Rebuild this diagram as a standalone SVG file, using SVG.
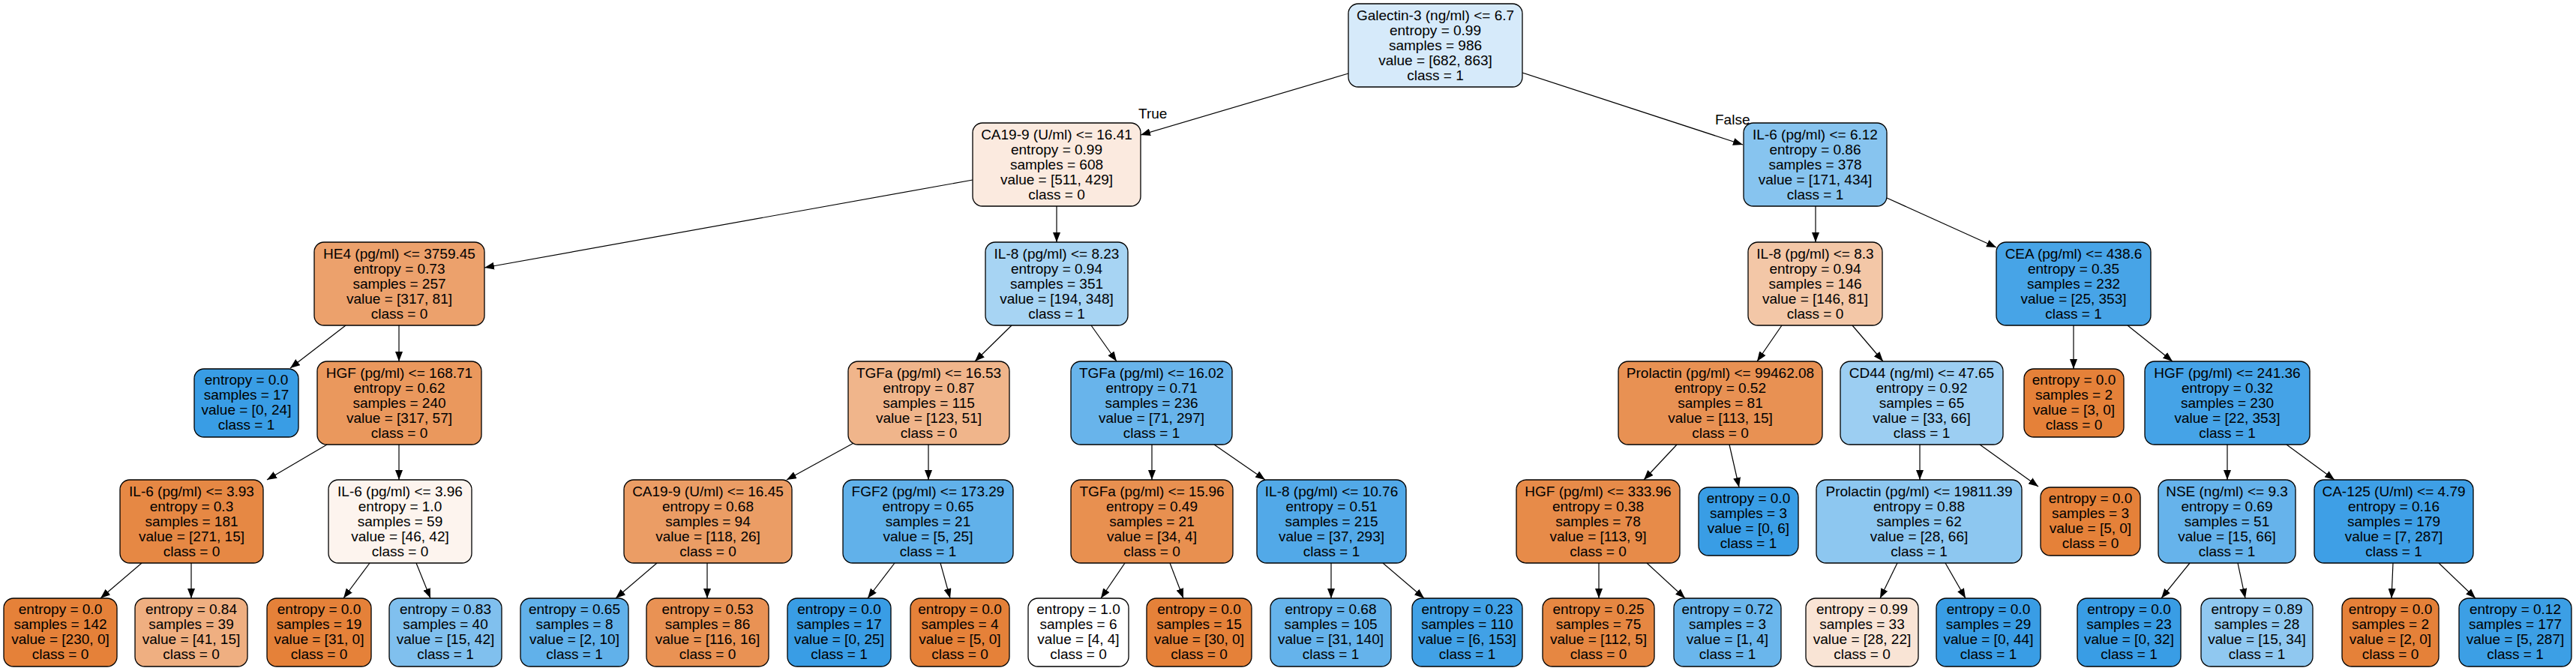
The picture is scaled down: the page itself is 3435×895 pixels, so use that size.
<svg xmlns="http://www.w3.org/2000/svg" width="3435" height="895" viewBox="0 0 3435 895">
<style>
.n rect{stroke:#000;stroke-width:1.3}
.n text,.lbl{font-family:"Liberation Sans",Arial,sans-serif;font-size:19px;fill:#000;text-anchor:middle}
.lbl{text-anchor:start}
.e line{stroke:#000;stroke-width:1.2;marker-end:url(#ah)}
</style>
<defs>
<marker id="ah" markerWidth="13" markerHeight="10" refX="13" refY="5" orient="auto" markerUnits="userSpaceOnUse"><path d="M0,0 L13,5 L0,10 z" fill="#000"/></marker>
</defs>
<rect width="3435" height="895" fill="#fff"/>
<g id="connectors" class="e">
<line x1="1798" y1="98" x2="1521" y2="180"/>
<line x1="2030" y1="97" x2="2324" y2="193"/>
<line x1="1297" y1="240" x2="646" y2="357"/>
<line x1="1409" y1="275" x2="1409" y2="323"/>
<line x1="2421" y1="275" x2="2421" y2="323"/>
<line x1="2516" y1="264" x2="2662" y2="330"/>
<line x1="461" y1="434" x2="387" y2="491"/>
<line x1="532" y1="434" x2="532" y2="482"/>
<line x1="1349" y1="434" x2="1300" y2="482"/>
<line x1="1455" y1="434" x2="1489" y2="482"/>
<line x1="2376" y1="434" x2="2343" y2="482"/>
<line x1="2470" y1="434" x2="2511" y2="482"/>
<line x1="2765" y1="434" x2="2765" y2="492"/>
<line x1="2837" y1="434" x2="2897" y2="482"/>
<line x1="436" y1="593" x2="356" y2="640"/>
<line x1="532" y1="593" x2="532" y2="640"/>
<line x1="1140" y1="590" x2="1049" y2="640"/>
<line x1="1238" y1="593" x2="1238" y2="640"/>
<line x1="1536" y1="593" x2="1536" y2="640"/>
<line x1="1619" y1="593" x2="1687" y2="640"/>
<line x1="2236" y1="593" x2="2192" y2="640"/>
<line x1="2306" y1="593" x2="2319" y2="650"/>
<line x1="2560" y1="593" x2="2560" y2="640"/>
<line x1="2640" y1="593" x2="2718" y2="649"/>
<line x1="2970" y1="593" x2="2970" y2="640"/>
<line x1="3049" y1="593" x2="3113" y2="640"/>
<line x1="189" y1="751" x2="134" y2="798"/>
<line x1="255" y1="751" x2="255" y2="798"/>
<line x1="493" y1="751" x2="458" y2="798"/>
<line x1="555" y1="751" x2="574" y2="798"/>
<line x1="876" y1="751" x2="821" y2="798"/>
<line x1="943" y1="751" x2="943" y2="798"/>
<line x1="1193" y1="751" x2="1157" y2="798"/>
<line x1="1254" y1="751" x2="1267" y2="798"/>
<line x1="1500" y1="751" x2="1468" y2="798"/>
<line x1="1560" y1="751" x2="1578" y2="798"/>
<line x1="1775" y1="751" x2="1775" y2="798"/>
<line x1="1844" y1="751" x2="1899" y2="798"/>
<line x1="2132" y1="751" x2="2132" y2="798"/>
<line x1="2196" y1="751" x2="2247" y2="798"/>
<line x1="2530" y1="751" x2="2507" y2="798"/>
<line x1="2594" y1="751" x2="2621" y2="798"/>
<line x1="2920" y1="751" x2="2882" y2="798"/>
<line x1="2984" y1="751" x2="2994" y2="798"/>
<line x1="3191" y1="751" x2="3189" y2="798"/>
<line x1="3252" y1="751" x2="3301" y2="798"/>
<text class="lbl" x="1518" y="158">True</text>
<text class="lbl" x="2287" y="166">False</text>
</g>
<g id="n0" class="n"><rect x="1798" y="5" width="232" height="111" rx="13" fill="#d6eafa"/><text x="1914" y="27">Galectin-3 (ng/ml) &lt;= 6.7<tspan x="1914" dy="20">entropy = 0.99</tspan><tspan x="1914" dy="20">samples = 986</tspan><tspan x="1914" dy="20">value = [682, 863]</tspan><tspan x="1914" dy="20">class = 1</tspan></text></g>
<g id="n1" class="n"><rect x="1297" y="164" width="224" height="111" rx="13" fill="#fbeadf"/><text x="1409" y="186">CA19-9 (U/ml) &lt;= 16.41<tspan x="1409" dy="20">entropy = 0.99</tspan><tspan x="1409" dy="20">samples = 608</tspan><tspan x="1409" dy="20">value = [511, 429]</tspan><tspan x="1409" dy="20">class = 0</tspan></text></g>
<g id="n2" class="n"><rect x="2325" y="164" width="191" height="111" rx="13" fill="#87c4ef"/><text x="2420.5" y="186">IL-6 (pg/ml) &lt;= 6.12<tspan x="2420.5" dy="20">entropy = 0.86</tspan><tspan x="2420.5" dy="20">samples = 378</tspan><tspan x="2420.5" dy="20">value = [171, 434]</tspan><tspan x="2420.5" dy="20">class = 1</tspan></text></g>
<g id="n3" class="n"><rect x="419" y="323" width="227" height="111" rx="13" fill="#eca16c"/><text x="532.5" y="345">HE4 (pg/ml) &lt;= 3759.45<tspan x="532.5" dy="20">entropy = 0.73</tspan><tspan x="532.5" dy="20">samples = 257</tspan><tspan x="532.5" dy="20">value = [317, 81]</tspan><tspan x="532.5" dy="20">class = 0</tspan></text></g>
<g id="n4" class="n"><rect x="1314" y="323" width="190" height="111" rx="13" fill="#a7d4f3"/><text x="1409" y="345">IL-8 (pg/ml) &lt;= 8.23<tspan x="1409" dy="20">entropy = 0.94</tspan><tspan x="1409" dy="20">samples = 351</tspan><tspan x="1409" dy="20">value = [194, 348]</tspan><tspan x="1409" dy="20">class = 1</tspan></text></g>
<g id="n5" class="n"><rect x="2331" y="323" width="179" height="111" rx="13" fill="#f3c7a7"/><text x="2420.5" y="345">IL-8 (pg/ml) &lt;= 8.3<tspan x="2420.5" dy="20">entropy = 0.94</tspan><tspan x="2420.5" dy="20">samples = 146</tspan><tspan x="2420.5" dy="20">value = [146, 81]</tspan><tspan x="2420.5" dy="20">class = 0</tspan></text></g>
<g id="n6" class="n"><rect x="2662" y="323" width="206" height="111" rx="13" fill="#47a4e7"/><text x="2765" y="345">CEA (pg/ml) &lt;= 438.6<tspan x="2765" dy="20">entropy = 0.35</tspan><tspan x="2765" dy="20">samples = 232</tspan><tspan x="2765" dy="20">value = [25, 353]</tspan><tspan x="2765" dy="20">class = 1</tspan></text></g>
<g id="n7" class="n"><rect x="259" y="492" width="139" height="91" rx="13" fill="#399de5"/><text x="328.5" y="513">entropy = 0.0<tspan x="328.5" dy="20">samples = 17</tspan><tspan x="328.5" dy="20">value = [0, 24]</tspan><tspan x="328.5" dy="20">class = 1</tspan></text></g>
<g id="n8" class="n"><rect x="423" y="482" width="219" height="111" rx="13" fill="#ea985d"/><text x="532.5" y="504">HGF (pg/ml) &lt;= 168.71<tspan x="532.5" dy="20">entropy = 0.62</tspan><tspan x="532.5" dy="20">samples = 240</tspan><tspan x="532.5" dy="20">value = [317, 57]</tspan><tspan x="532.5" dy="20">class = 0</tspan></text></g>
<g id="n9" class="n"><rect x="1131" y="482" width="215" height="111" rx="13" fill="#f0b58b"/><text x="1238.5" y="504">TGFa (pg/ml) &lt;= 16.53<tspan x="1238.5" dy="20">entropy = 0.87</tspan><tspan x="1238.5" dy="20">samples = 115</tspan><tspan x="1238.5" dy="20">value = [123, 51]</tspan><tspan x="1238.5" dy="20">class = 0</tspan></text></g>
<g id="n10" class="n"><rect x="1428" y="482" width="215" height="111" rx="13" fill="#68b4eb"/><text x="1535.5" y="504">TGFa (pg/ml) &lt;= 16.02<tspan x="1535.5" dy="20">entropy = 0.71</tspan><tspan x="1535.5" dy="20">samples = 236</tspan><tspan x="1535.5" dy="20">value = [71, 297]</tspan><tspan x="1535.5" dy="20">class = 1</tspan></text></g>
<g id="n11" class="n"><rect x="2158" y="482" width="272" height="111" rx="13" fill="#e89153"/><text x="2294" y="504">Prolactin (pg/ml) &lt;= 99462.08<tspan x="2294" dy="20">entropy = 0.52</tspan><tspan x="2294" dy="20">samples = 81</tspan><tspan x="2294" dy="20">value = [113, 15]</tspan><tspan x="2294" dy="20">class = 0</tspan></text></g>
<g id="n12" class="n"><rect x="2454" y="482" width="217" height="111" rx="13" fill="#9ccef2"/><text x="2562.5" y="504">CD44 (ng/ml) &lt;= 47.65<tspan x="2562.5" dy="20">entropy = 0.92</tspan><tspan x="2562.5" dy="20">samples = 65</tspan><tspan x="2562.5" dy="20">value = [33, 66]</tspan><tspan x="2562.5" dy="20">class = 1</tspan></text></g>
<g id="n13" class="n"><rect x="2699" y="492" width="133" height="91" rx="13" fill="#e58139"/><text x="2765.5" y="513">entropy = 0.0<tspan x="2765.5" dy="20">samples = 2</tspan><tspan x="2765.5" dy="20">value = [3, 0]</tspan><tspan x="2765.5" dy="20">class = 0</tspan></text></g>
<g id="n14" class="n"><rect x="2860" y="482" width="220" height="111" rx="13" fill="#45a3e7"/><text x="2970" y="504">HGF (pg/ml) &lt;= 241.36<tspan x="2970" dy="20">entropy = 0.32</tspan><tspan x="2970" dy="20">samples = 230</tspan><tspan x="2970" dy="20">value = [22, 353]</tspan><tspan x="2970" dy="20">class = 1</tspan></text></g>
<g id="n15" class="n"><rect x="160" y="640" width="191" height="111" rx="13" fill="#e68844"/><text x="255.5" y="662">IL-6 (pg/ml) &lt;= 3.93<tspan x="255.5" dy="20">entropy = 0.3</tspan><tspan x="255.5" dy="20">samples = 181</tspan><tspan x="255.5" dy="20">value = [271, 15]</tspan><tspan x="255.5" dy="20">class = 0</tspan></text></g>
<g id="n16" class="n"><rect x="438" y="640" width="191" height="111" rx="13" fill="#fdf4ee"/><text x="533.5" y="662">IL-6 (pg/ml) &lt;= 3.96<tspan x="533.5" dy="20">entropy = 1.0</tspan><tspan x="533.5" dy="20">samples = 59</tspan><tspan x="533.5" dy="20">value = [46, 42]</tspan><tspan x="533.5" dy="20">class = 0</tspan></text></g>
<g id="n17" class="n"><rect x="832" y="640" width="224" height="111" rx="13" fill="#eb9d65"/><text x="944" y="662">CA19-9 (U/ml) &lt;= 16.45<tspan x="944" dy="20">entropy = 0.68</tspan><tspan x="944" dy="20">samples = 94</tspan><tspan x="944" dy="20">value = [118, 26]</tspan><tspan x="944" dy="20">class = 0</tspan></text></g>
<g id="n18" class="n"><rect x="1124" y="640" width="227" height="111" rx="13" fill="#61b1ea"/><text x="1237.5" y="662">FGF2 (pg/ml) &lt;= 173.29<tspan x="1237.5" dy="20">entropy = 0.65</tspan><tspan x="1237.5" dy="20">samples = 21</tspan><tspan x="1237.5" dy="20">value = [5, 25]</tspan><tspan x="1237.5" dy="20">class = 1</tspan></text></g>
<g id="n19" class="n"><rect x="1428" y="640" width="216" height="111" rx="13" fill="#e89050"/><text x="1536" y="662">TGFa (pg/ml) &lt;= 15.96<tspan x="1536" dy="20">entropy = 0.49</tspan><tspan x="1536" dy="20">samples = 21</tspan><tspan x="1536" dy="20">value = [34, 4]</tspan><tspan x="1536" dy="20">class = 0</tspan></text></g>
<g id="n20" class="n"><rect x="1676" y="640" width="199" height="111" rx="13" fill="#52a9e8"/><text x="1775.5" y="662">IL-8 (pg/ml) &lt;= 10.76<tspan x="1775.5" dy="20">entropy = 0.51</tspan><tspan x="1775.5" dy="20">samples = 215</tspan><tspan x="1775.5" dy="20">value = [37, 293]</tspan><tspan x="1775.5" dy="20">class = 1</tspan></text></g>
<g id="n21" class="n"><rect x="2022" y="640" width="218" height="111" rx="13" fill="#e78b49"/><text x="2131" y="662">HGF (pg/ml) &lt;= 333.96<tspan x="2131" dy="20">entropy = 0.38</tspan><tspan x="2131" dy="20">samples = 78</tspan><tspan x="2131" dy="20">value = [113, 9]</tspan><tspan x="2131" dy="20">class = 0</tspan></text></g>
<g id="n22" class="n"><rect x="2265" y="650" width="133" height="91" rx="13" fill="#399de5"/><text x="2331.5" y="671">entropy = 0.0<tspan x="2331.5" dy="20">samples = 3</tspan><tspan x="2331.5" dy="20">value = [0, 6]</tspan><tspan x="2331.5" dy="20">class = 1</tspan></text></g>
<g id="n23" class="n"><rect x="2422" y="640" width="274" height="111" rx="13" fill="#8dc7f0"/><text x="2559" y="662">Prolactin (pg/ml) &lt;= 19811.39<tspan x="2559" dy="20">entropy = 0.88</tspan><tspan x="2559" dy="20">samples = 62</tspan><tspan x="2559" dy="20">value = [28, 66]</tspan><tspan x="2559" dy="20">class = 1</tspan></text></g>
<g id="n24" class="n"><rect x="2721" y="650" width="133" height="91" rx="13" fill="#e58139"/><text x="2787.5" y="671">entropy = 0.0<tspan x="2787.5" dy="20">samples = 3</tspan><tspan x="2787.5" dy="20">value = [5, 0]</tspan><tspan x="2787.5" dy="20">class = 0</tspan></text></g>
<g id="n25" class="n"><rect x="2878" y="640" width="183" height="111" rx="13" fill="#66b3eb"/><text x="2969.5" y="662">NSE (ng/ml) &lt;= 9.3<tspan x="2969.5" dy="20">entropy = 0.69</tspan><tspan x="2969.5" dy="20">samples = 51</tspan><tspan x="2969.5" dy="20">value = [15, 66]</tspan><tspan x="2969.5" dy="20">class = 1</tspan></text></g>
<g id="n26" class="n"><rect x="3086" y="640" width="212" height="111" rx="13" fill="#3e9fe6"/><text x="3192" y="662">CA-125 (U/ml) &lt;= 4.79<tspan x="3192" dy="20">entropy = 0.16</tspan><tspan x="3192" dy="20">samples = 179</tspan><tspan x="3192" dy="20">value = [7, 287]</tspan><tspan x="3192" dy="20">class = 1</tspan></text></g>
<g id="n27" class="n"><rect x="5" y="798" width="151" height="91" rx="13" fill="#e58139"/><text x="80.5" y="819">entropy = 0.0<tspan x="80.5" dy="20">samples = 142</tspan><tspan x="80.5" dy="20">value = [230, 0]</tspan><tspan x="80.5" dy="20">class = 0</tspan></text></g>
<g id="n28" class="n"><rect x="180" y="798" width="150" height="91" rx="13" fill="#efaf81"/><text x="255" y="819">entropy = 0.84<tspan x="255" dy="20">samples = 39</tspan><tspan x="255" dy="20">value = [41, 15]</tspan><tspan x="255" dy="20">class = 0</tspan></text></g>
<g id="n29" class="n"><rect x="356" y="798" width="139" height="91" rx="13" fill="#e58139"/><text x="425.5" y="819">entropy = 0.0<tspan x="425.5" dy="20">samples = 19</tspan><tspan x="425.5" dy="20">value = [31, 0]</tspan><tspan x="425.5" dy="20">class = 0</tspan></text></g>
<g id="n30" class="n"><rect x="519" y="798" width="150" height="91" rx="13" fill="#80c0ee"/><text x="594" y="819">entropy = 0.83<tspan x="594" dy="20">samples = 40</tspan><tspan x="594" dy="20">value = [15, 42]</tspan><tspan x="594" dy="20">class = 1</tspan></text></g>
<g id="n31" class="n"><rect x="694" y="798" width="144" height="91" rx="13" fill="#61b1ea"/><text x="766" y="819">entropy = 0.65<tspan x="766" dy="20">samples = 8</tspan><tspan x="766" dy="20">value = [2, 10]</tspan><tspan x="766" dy="20">class = 1</tspan></text></g>
<g id="n32" class="n"><rect x="862" y="798" width="163" height="91" rx="13" fill="#e99254"/><text x="943.5" y="819">entropy = 0.53<tspan x="943.5" dy="20">samples = 86</tspan><tspan x="943.5" dy="20">value = [116, 16]</tspan><tspan x="943.5" dy="20">class = 0</tspan></text></g>
<g id="n33" class="n"><rect x="1050" y="798" width="138" height="91" rx="13" fill="#399de5"/><text x="1119" y="819">entropy = 0.0<tspan x="1119" dy="20">samples = 17</tspan><tspan x="1119" dy="20">value = [0, 25]</tspan><tspan x="1119" dy="20">class = 1</tspan></text></g>
<g id="n34" class="n"><rect x="1214" y="798" width="132" height="91" rx="13" fill="#e58139"/><text x="1280" y="819">entropy = 0.0<tspan x="1280" dy="20">samples = 4</tspan><tspan x="1280" dy="20">value = [5, 0]</tspan><tspan x="1280" dy="20">class = 0</tspan></text></g>
<g id="n35" class="n"><rect x="1371" y="798" width="134" height="91" rx="13" fill="#ffffff"/><text x="1438" y="819">entropy = 1.0<tspan x="1438" dy="20">samples = 6</tspan><tspan x="1438" dy="20">value = [4, 4]</tspan><tspan x="1438" dy="20">class = 0</tspan></text></g>
<g id="n36" class="n"><rect x="1529" y="798" width="140" height="91" rx="13" fill="#e58139"/><text x="1599" y="819">entropy = 0.0<tspan x="1599" dy="20">samples = 15</tspan><tspan x="1599" dy="20">value = [30, 0]</tspan><tspan x="1599" dy="20">class = 0</tspan></text></g>
<g id="n37" class="n"><rect x="1694" y="798" width="161" height="91" rx="13" fill="#65b3eb"/><text x="1774.5" y="819">entropy = 0.68<tspan x="1774.5" dy="20">samples = 105</tspan><tspan x="1774.5" dy="20">value = [31, 140]</tspan><tspan x="1774.5" dy="20">class = 1</tspan></text></g>
<g id="n38" class="n"><rect x="1883" y="798" width="147" height="91" rx="13" fill="#41a1e6"/><text x="1956.5" y="819">entropy = 0.23<tspan x="1956.5" dy="20">samples = 110</tspan><tspan x="1956.5" dy="20">value = [6, 153]</tspan><tspan x="1956.5" dy="20">class = 1</tspan></text></g>
<g id="n39" class="n"><rect x="2057" y="798" width="149" height="91" rx="13" fill="#e68742"/><text x="2131.5" y="819">entropy = 0.25<tspan x="2131.5" dy="20">samples = 75</tspan><tspan x="2131.5" dy="20">value = [112, 5]</tspan><tspan x="2131.5" dy="20">class = 0</tspan></text></g>
<g id="n40" class="n"><rect x="2232" y="798" width="143" height="91" rx="13" fill="#6ab6ec"/><text x="2303.5" y="819">entropy = 0.72<tspan x="2303.5" dy="20">samples = 3</tspan><tspan x="2303.5" dy="20">value = [1, 4]</tspan><tspan x="2303.5" dy="20">class = 1</tspan></text></g>
<g id="n41" class="n"><rect x="2408" y="798" width="150" height="91" rx="13" fill="#f9e4d5"/><text x="2483" y="819">entropy = 0.99<tspan x="2483" dy="20">samples = 33</tspan><tspan x="2483" dy="20">value = [28, 22]</tspan><tspan x="2483" dy="20">class = 0</tspan></text></g>
<g id="n42" class="n"><rect x="2582" y="798" width="139" height="91" rx="13" fill="#399de5"/><text x="2651.5" y="819">entropy = 0.0<tspan x="2651.5" dy="20">samples = 29</tspan><tspan x="2651.5" dy="20">value = [0, 44]</tspan><tspan x="2651.5" dy="20">class = 1</tspan></text></g>
<g id="n43" class="n"><rect x="2770" y="798" width="138" height="91" rx="13" fill="#399de5"/><text x="2839" y="819">entropy = 0.0<tspan x="2839" dy="20">samples = 23</tspan><tspan x="2839" dy="20">value = [0, 32]</tspan><tspan x="2839" dy="20">class = 1</tspan></text></g>
<g id="n44" class="n"><rect x="2935" y="798" width="149" height="91" rx="13" fill="#90c8f0"/><text x="3009.5" y="819">entropy = 0.89<tspan x="3009.5" dy="20">samples = 28</tspan><tspan x="3009.5" dy="20">value = [15, 34]</tspan><tspan x="3009.5" dy="20">class = 1</tspan></text></g>
<g id="n45" class="n"><rect x="3123" y="798" width="129" height="91" rx="13" fill="#e58139"/><text x="3187.5" y="819">entropy = 0.0<tspan x="3187.5" dy="20">samples = 2</tspan><tspan x="3187.5" dy="20">value = [2, 0]</tspan><tspan x="3187.5" dy="20">class = 0</tspan></text></g>
<g id="n46" class="n"><rect x="3279" y="798" width="150" height="91" rx="13" fill="#3c9fe5"/><text x="3354" y="819">entropy = 0.12<tspan x="3354" dy="20">samples = 177</tspan><tspan x="3354" dy="20">value = [5, 287]</tspan><tspan x="3354" dy="20">class = 1</tspan></text></g>
</svg>
